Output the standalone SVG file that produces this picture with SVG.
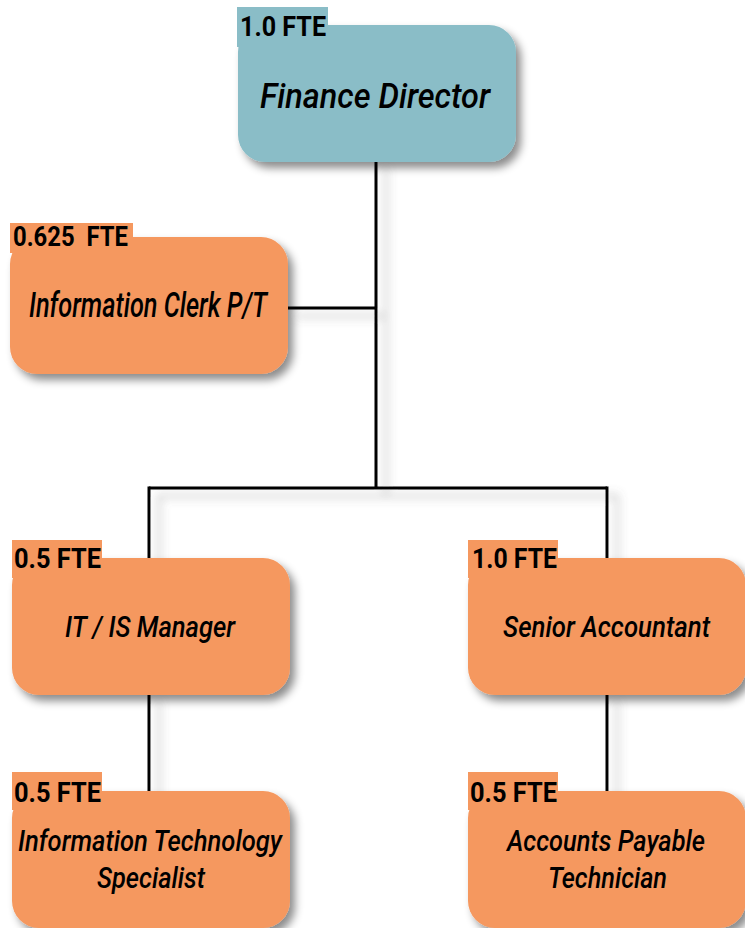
<svg xmlns="http://www.w3.org/2000/svg" width="745" height="928" viewBox="0 0 745 928">
  <defs>
    <filter id="boxShadow" x="-10%" y="-10%" width="130%" height="140%">
      <feDropShadow dx="5" dy="6" stdDeviation="4" flood-color="#000" flood-opacity="0.45"/>
    </filter>
    <filter id="lineShadow" x="-20%" y="-20%" width="160%" height="160%">
      <feDropShadow dx="10" dy="8" stdDeviation="5" flood-color="#666" flood-opacity="0.4"/>
    </filter>
    <style>
      .box-teal { fill: #8ABDC7; }
      .box-orange { fill: #F5985F; }
      .tag-teal { fill: #8ABDC7; }
      .tag-orange { fill: #F5985F; }
      .tag { font-family: Roboto, "Liberation Sans", sans-serif; font-weight: bold; font-size: 27px; fill: #000; white-space: pre; }
      .title { font-family: Roboto, "Liberation Sans", sans-serif; font-style: italic; font-weight: 500; font-size: 35px; fill: #000; }
      .name { font-family: Roboto, "Liberation Sans", sans-serif; font-style: italic; font-weight: 500; font-size: 29px; fill: #000; }
      .link { fill: none; stroke: #000; stroke-width: 3; }
    </style>
  </defs>
  <rect width="745" height="928" fill="#fff"/>

  <!-- reporting lines -->
  <g id="connectors" filter="url(#lineShadow)">
    <path class="link" d="M376 160 V488"/>
    <path class="link" d="M286 308 H376"/>
    <path class="link" d="M149 488 H607"/>
    <path class="link" d="M149 486.5 V560"/>
    <path class="link" d="M607 486.5 V560"/>
    <path class="link" d="M149 693 V793"/>
    <path class="link" d="M607 693 V793"/>
  </g>

  <g id="finance-director">
    <rect class="box-teal" x="238" y="25" width="278" height="137" rx="27" filter="url(#boxShadow)"/>
    <rect class="tag-teal" x="237" y="7" width="91" height="40"/>
    <text class="tag" x="240" y="36" textLength="86" lengthAdjust="spacingAndGlyphs">1.0 FTE</text>
    <text class="title" x="260" y="108" textLength="230" lengthAdjust="spacingAndGlyphs">Finance Director</text>
  </g>

  <g id="information-clerk">
    <rect class="box-orange" x="10" y="237" width="278" height="137" rx="27" filter="url(#boxShadow)"/>
    <rect class="tag-orange" x="10" y="223" width="123" height="30"/>
    <text class="tag" x="13" y="246" textLength="115" lengthAdjust="spacingAndGlyphs" xml:space="preserve">0.625  FTE</text>
    <text class="title" x="29" y="317" textLength="238" lengthAdjust="spacingAndGlyphs">Information Clerk P/T</text>
  </g>

  <g id="it-is-manager">
    <rect class="box-orange" x="12" y="558" width="278" height="137" rx="27" filter="url(#boxShadow)"/>
    <rect class="tag-orange" x="12" y="540" width="90" height="38"/>
    <text class="tag" x="14" y="568" textLength="87" lengthAdjust="spacingAndGlyphs">0.5 FTE</text>
    <text class="name" x="65" y="637" textLength="170" lengthAdjust="spacingAndGlyphs">IT / IS Manager</text>
  </g>

  <g id="senior-accountant">
    <rect class="box-orange" x="468" y="558" width="278" height="137" rx="27" filter="url(#boxShadow)"/>
    <rect class="tag-orange" x="468" y="540" width="90" height="38"/>
    <text class="tag" x="472" y="568" textLength="85" lengthAdjust="spacingAndGlyphs">1.0 FTE</text>
    <text class="name" x="503" y="637" textLength="207" lengthAdjust="spacingAndGlyphs">Senior Accountant</text>
  </g>

  <g id="it-specialist">
    <rect class="box-orange" x="12" y="791" width="278" height="137" rx="27" filter="url(#boxShadow)"/>
    <rect class="tag-orange" x="12" y="772" width="90" height="38"/>
    <text class="tag" x="14" y="802" textLength="87" lengthAdjust="spacingAndGlyphs">0.5 FTE</text>
    <text class="name" x="18" y="851" textLength="264" lengthAdjust="spacingAndGlyphs">Information Technology</text>
    <text class="name" x="97" y="888" textLength="108" lengthAdjust="spacingAndGlyphs">Specialist</text>
  </g>

  <g id="accounts-payable">
    <rect class="box-orange" x="468" y="791" width="278" height="137" rx="27" filter="url(#boxShadow)"/>
    <rect class="tag-orange" x="468" y="772" width="90" height="38"/>
    <text class="tag" x="470" y="802" textLength="87" lengthAdjust="spacingAndGlyphs">0.5 FTE</text>
    <text class="name" x="507" y="851" textLength="198" lengthAdjust="spacingAndGlyphs">Accounts Payable</text>
    <text class="name" x="548" y="888" textLength="119" lengthAdjust="spacingAndGlyphs">Technician</text>
  </g>
</svg>
